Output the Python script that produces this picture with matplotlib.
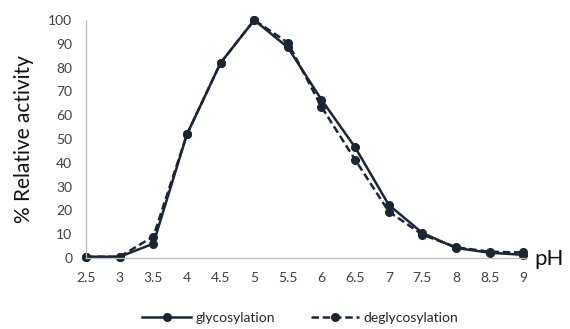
import matplotlib
matplotlib.use("Agg")
import matplotlib.pyplot as plt
from matplotlib.lines import Line2D

ph_labels = ["2.5", "3", "3.5", "4", "4.5", "5", "5.5", "6", "6.5", "7", "7.5", "8", "8.5", "9"]
glycosylation = [0.5, 0.5, 6, 52, 82, 100, 88.5, 66.5, 46.5, 22.3, 10.5, 4.2, 2.2, 1.3]
deglycosylation = [0.5, 0.5, 9, 52, 82, 100, 90.5, 63.5, 41.3, 19.5, 9.8, 4.5, 2.6, 2.3]
y_ticks = [0, 10, 20, 30, 40, 50, 60, 70, 80, 90, 100]

plt.rcParams['font.family'] = ['Lato', 'DejaVu Sans']
line_color = "#1c2533"
label_color = "#404040"

fig = plt.figure(figsize=(5.7, 3.29), dpi=100)
ax = fig.add_axes([0.151, 0.216, 0.77, 0.723])

x = list(range(len(ph_labels)))
ax.plot(x, glycosylation, color=line_color, lw=1.8, marker='o', ms=5.5, ls='-')
ax.plot(x, deglycosylation, color=line_color, lw=1.8, marker='o', ms=5.5, ls=(0, (3, 1.5)))

ax.set_xlim(0, 13.05)
ax.set_ylim(0, 100)
ax.set_xticks(x)
ax.set_xticklabels(ph_labels)
ax.set_yticks(y_ticks)
ax.tick_params(axis='both', length=0, labelsize=10, colors=label_color)
ax.tick_params(axis='x', pad=10)
ax.tick_params(axis='y', pad=10)

for side in ['top', 'right']:
    ax.spines[side].set_visible(False)
for side in ['left', 'bottom']:
    ax.spines[side].set_color('#bfbfbf')
    ax.spines[side].set_linewidth(0.9)
for ln in ax.lines:
    ln.set_clip_on(False)

ax.set_ylabel("% Relative activity", fontsize=15, color="#111111", labelpad=10)
fig.text(0.937, 0.213, "pH", fontsize=16, color="#111111", va='center', ha='left')

handles = [
    Line2D([], [], color=line_color, lw=1.8, marker='o', ms=5.5, ls='-'),
    Line2D([], [], color=line_color, lw=1.8, marker='o', ms=5.5, ls=(0, (3, 1.5))),
]
fig.legend(handles, ["glycosylation", "deglycosylation"], loc='center',
           bbox_to_anchor=(0.527, 0.033), ncol=2, frameon=False, fontsize=10,
           handlelength=3.5, handletextpad=0.3, columnspacing=2.6,
           labelcolor="#262626")

fig.savefig("out.png", dpi=100)
